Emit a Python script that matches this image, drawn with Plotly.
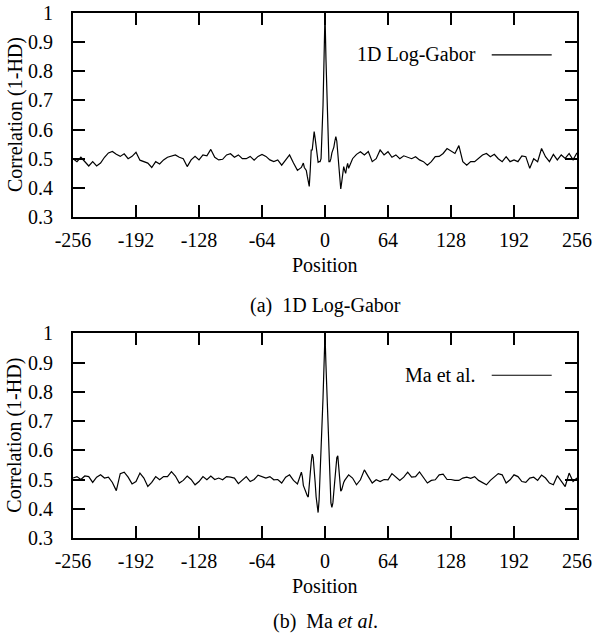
#!/usr/bin/env python3
"""
Correlation (1-HD) versus shift position for two iris feature encoders.
"""

import plotly.graph_objects as go

# shift positions: coarse in the noise floor, every position around the peak
positions = list(range(-256, -24, 4)) + list(range(-24, 25)) + list(range(28, 257, 4))

# (a) 1D Log-Gabor
log_gabor_left = [
    0.50, 0.49, 0.505, 0.49, 0.475, 0.49, 0.475, 0.485, 0.505, 0.52,
    0.525, 0.515, 0.508, 0.517, 0.50, 0.508, 0.522, 0.495, 0.49, 0.485,
    0.47, 0.49, 0.482, 0.496, 0.505, 0.508, 0.513, 0.505, 0.50, 0.473,
    0.496, 0.508, 0.496, 0.513, 0.51, 0.532, 0.505, 0.496, 0.498, 0.513,
    0.517, 0.505, 0.513, 0.50, 0.50, 0.508, 0.495, 0.508, 0.515, 0.508,
    0.496, 0.49, 0.496, 0.478, 0.495, 0.513, 0.485, 0.46,
]
log_gabor_center = [
    0.47, 0.48, 0.485, 0.47, 0.465, 0.46, 0.44, 0.42, 0.405, 0.46,
    0.53, 0.53, 0.56, 0.593, 0.57, 0.54, 0.50, 0.488, 0.49, 0.49,
    0.50, 0.59, 0.684, 0.84, 1.0, 0.84, 0.684, 0.56, 0.49, 0.49,
    0.50, 0.52, 0.53, 0.54, 0.56, 0.576, 0.56, 0.52, 0.47, 0.42,
    0.396, 0.42, 0.46, 0.473, 0.46, 0.45, 0.47, 0.484, 0.467,
]
log_gabor_right = [
    0.50, 0.515, 0.524, 0.513, 0.525, 0.49, 0.50, 0.53, 0.513, 0.524,
    0.505, 0.513, 0.50, 0.51, 0.505, 0.50, 0.507, 0.496, 0.49, 0.478,
    0.49, 0.507, 0.508, 0.518, 0.535, 0.525, 0.518, 0.545, 0.49, 0.478,
    0.49, 0.49, 0.50, 0.513, 0.518, 0.507, 0.515, 0.50, 0.49, 0.507,
    0.49, 0.496, 0.49, 0.51, 0.507, 0.467, 0.50, 0.49, 0.535, 0.507,
    0.49, 0.515, 0.496, 0.513, 0.501, 0.518, 0.496, 0.52,
]

# (b) Ma et al.
ma_left = [
    0.505, 0.51, 0.50, 0.512, 0.51, 0.49, 0.508, 0.516, 0.505, 0.508,
    0.49, 0.462, 0.52, 0.525, 0.508, 0.485, 0.493, 0.522, 0.505, 0.476,
    0.49, 0.51, 0.499, 0.51, 0.51, 0.527, 0.512, 0.488, 0.497, 0.512,
    0.50, 0.482, 0.493, 0.51, 0.499, 0.512, 0.50, 0.505, 0.499, 0.51,
    0.508, 0.505, 0.486, 0.497, 0.51, 0.493, 0.50, 0.515, 0.51, 0.505,
    0.51, 0.499, 0.50, 0.488, 0.508, 0.516, 0.497, 0.485,
]
ma_center = [
    0.525, 0.51, 0.48, 0.47, 0.462, 0.455, 0.445, 0.44, 0.47, 0.52,
    0.56, 0.587, 0.575, 0.54, 0.49, 0.44, 0.40, 0.387, 0.43, 0.51,
    0.60, 0.675, 0.78, 0.89, 1.0, 0.89, 0.78, 0.675, 0.58, 0.49,
    0.42, 0.405, 0.42, 0.46, 0.51, 0.55, 0.575, 0.581, 0.54, 0.50,
    0.46, 0.465, 0.485, 0.49, 0.497, 0.503, 0.508, 0.512, 0.516,
]
ma_right = [
    0.505, 0.482, 0.499, 0.533, 0.51, 0.488, 0.499, 0.493, 0.50, 0.499,
    0.52, 0.51, 0.497, 0.508, 0.525, 0.508, 0.51, 0.526, 0.505, 0.488,
    0.497, 0.499, 0.516, 0.518, 0.50, 0.50, 0.497, 0.497, 0.505, 0.508,
    0.504, 0.51, 0.497, 0.488, 0.482, 0.497, 0.508, 0.52, 0.516, 0.488,
    0.499, 0.516, 0.51, 0.493, 0.49, 0.505, 0.508, 0.497, 0.515, 0.505,
    0.488, 0.482, 0.513, 0.493, 0.476, 0.522, 0.493, 0.505,
]

log_gabor = log_gabor_left + log_gabor_center + log_gabor_right
ma_et_al = ma_left + ma_center + ma_right

x_ticks = [-256, -192, -128, -64, 0, 64, 128, 192, 256]
x_labels = [str(v) for v in x_ticks]
y_ticks = [0.3, 0.4, 0.5, 0.6, 0.7, 0.8, 0.9, 1.0]
y_labels = ["0.3", "0.4", "0.5", "0.6", "0.7", "0.8", "0.9", "1"]

FONT = "Liberation Serif"
FS = 20

fig = go.Figure()
fig.add_trace(go.Scatter(x=positions, y=log_gabor, mode="lines",
                         line=dict(color="black", width=1.2),
                         xaxis="x", yaxis="y", showlegend=False))
fig.add_trace(go.Scatter(x=positions, y=ma_et_al, mode="lines",
                         line=dict(color="black", width=1.2),
                         xaxis="x2", yaxis="y2", showlegend=False))

axis_style = dict(
    ticks="inside", ticklen=12, tickwidth=1.5, tickcolor="black",
    showline=True, linewidth=2, linecolor="black", mirror="allticks",
    showgrid=False, zeroline=False, automargin=False,
    ticklabeloverflow="allow",
    tickfont=dict(family=FONT, size=FS, color="black"),
)

fig.update_layout(
    width=595, height=640,
    margin=dict(l=73, r=18, t=13, b=102),
    paper_bgcolor="white", plot_bgcolor="white",
    xaxis=dict(range=[-256, 256], tickvals=x_ticks, ticktext=x_labels,
               anchor="y", ticklabelstandoff=4, **axis_style),
    yaxis=dict(range=[0.3, 1.0], tickvals=y_ticks, ticktext=y_labels,
               domain=[0.6114, 1.0], anchor="x", ticklabelstandoff=14, **axis_style),
    xaxis2=dict(range=[-256, 256], tickvals=x_ticks, ticktext=x_labels,
                anchor="y2", ticklabelstandoff=4, **axis_style),
    yaxis2=dict(range=[0.3, 1.0], tickvals=y_ticks, ticktext=y_labels,
                domain=[0.0, 0.3899], anchor="x2", ticklabelstandoff=14, **axis_style),
)

txt = dict(family=FONT, size=FS, color="black")
panels = [("x", "y", "1D Log-Gabor", "(a)  1D Log-Gabor", -88),
          ("x2", "y2", "Ma et al.", "(b)  Ma <i>et al</i>.", -83)]
for xa, ya, key, caption, cap_shift in panels:
    xd, yd = f"{xa} domain", f"{ya} domain"
    # gnuplot style key: label then line sample
    fig.add_annotation(x=0.8036, y=0.795, xref=xd, yref=yd, text=key,
                       showarrow=False, xanchor="right", yanchor="middle", font=txt)
    fig.add_shape(type="line", xref=xd, yref=yd, x0=0.8308, x1=0.9498,
                  y0=0.795, y1=0.795, line=dict(color="black", width=1.2))
    fig.add_annotation(x=0, y=0.5, xref=xd, yref=yd, text="Correlation (1-HD)",
                       showarrow=False, textangle=-90, xanchor="center",
                       yanchor="middle", xshift=-58, font=txt)
    fig.add_annotation(x=0.5, y=0, xref=xd, yref=yd, text="Position",
                       showarrow=False, xanchor="center", yanchor="middle",
                       yshift=-48, font=txt)
    fig.add_annotation(x=0.5, y=0, xref=xd, yref=yd, text=caption,
                       showarrow=False, xanchor="center", yanchor="middle",
                       yshift=cap_shift, font=txt)

# drop the browser's default body margin so the figure sits at the page corner
fig.write_html("out.html", config={"displayModeBar": False},
               post_script="document.body.style.margin = '0';")
